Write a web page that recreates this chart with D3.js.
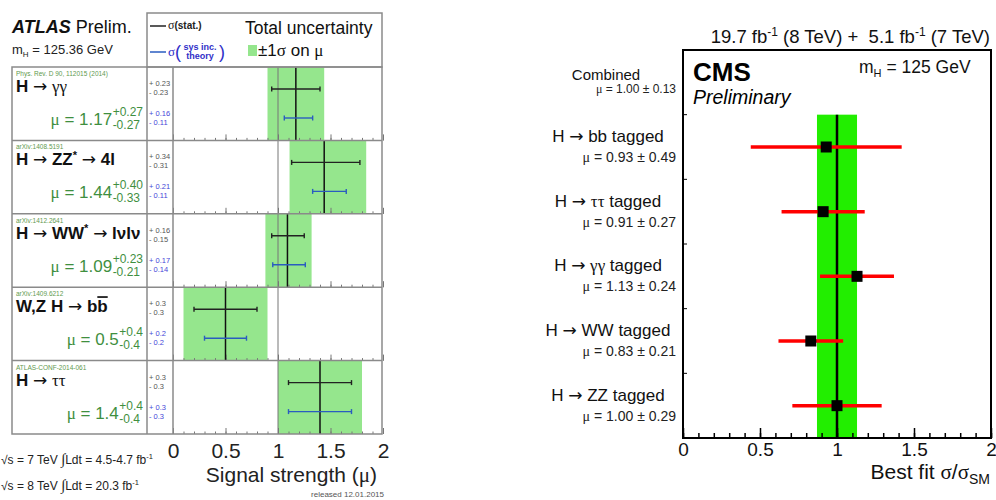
<!DOCTYPE html>
<html><head><meta charset="utf-8">
<script src="https://cdn.jsdelivr.net/npm/d3@7"></script>
<style>
body{margin:0;background:#fff}
svg{display:block;font-family:"Liberation Sans",Arial,Helvetica,sans-serif}
</style>
</head><body>
<svg id="c" width="996" height="500"></svg>
<script>
// ---------------- ATLAS data ----------------
const atlasLabels = ["H → γγ", "H → ZZ^* → 4l", "H → WW^* → lνlν", "W,Z H → b~b", "H → ττ"];
const atlasRefs = ["Phys. Rev. D 90, 112015 (2014)", "arXiv:1408.5191", "arXiv:1412.2641", "arXiv:1409.6212", "ATLAS-CONF-2014-061"];
const atlasMu = [1.17, 1.44, 1.09, 0.5, 1.4];
const atlasPrec = [2, 2, 2, 1, 1];
const atlasTotUp = [0.27, 0.40, 0.23, 0.4, 0.4];
const atlasTotDn = [0.27, 0.33, 0.21, 0.4, 0.4];
const atlasStatUp = [0.23, 0.34, 0.16, 0.3, 0.3];
const atlasStatDn = [0.23, 0.31, 0.15, 0.3, 0.3];
const atlasSysUp = [0.16, 0.21, 0.17, 0.2, 0.3];
const atlasSysDn = [0.11, 0.11, 0.14, 0.2, 0.3];
const atlasTicks = [0, 0.5, 1, 1.5, 2];

// ---------------- CMS data ----------------
const cmsCategories = ["Combined", "H → bb tagged", "H → ττ tagged", "H → γγ tagged", "H → WW tagged", "H → ZZ tagged"];
const cmsMu = [1.00, 0.93, 0.91, 1.13, 0.83, 1.00];
const cmsErr = [0.13, 0.49, 0.27, 0.24, 0.21, 0.29];
const cmsTicks = [0, 0.5, 1, 1.5, 2];

const svg = d3.select("#c");
const SERIF = "Liberation Serif, DejaVu Serif, serif";
const ARROWF = "DejaVu Sans, sans-serif";

// rich text: arrows and greek letters in dedicated fonts
function rich(t, str, opt = {}) {
  let pendingDy = 0;
  const add = () => { const s = t.append("tspan"); if (pendingDy) { s.attr("dy", pendingDy); pendingDy = 0; } return s; };
  str.split(/(→|[γτμ]|\^\*|~b)/).forEach(seg => {
    if (!seg) return;
    if (seg === "→") add().attr("font-family", ARROWF).attr("font-weight", "normal").text("→");
    else if (/[γτμ]/.test(seg)) add().attr("font-family", SERIF).attr("font-weight", opt.greekWeight || null).text(seg);
    else if (seg === "^*") {
      const fs = +t.attr("font-size");
      add().attr("font-size", fs * 0.65).attr("dy", -fs * 0.38).text("*");
      pendingDy = fs * 0.38;
    }
    else if (seg === "~b") add().style("text-decoration", "overline").text("b");
    else add().text(seg);
  });
  return t;
}

// ================= ATLAS panel =================
const A = svg.append("g");
const xa = d3.scaleLinear().domain([0, 2]).range([173, 383]);
const ya = d3.scaleBand().domain(d3.range(atlasMu.length)).range([67, 434]);
const rowH = ya.bandwidth();
const gFrame = "#8a8a8a", aGreen = "#95e68d", aText = "#3f8f3f", aBlue = "#2a5cc0", aBlueTxt = "#4646d8";

atlasMu.forEach((mu, i) => {
  const y0 = ya(i);
  const g = A.append("g");
  g.append("rect").attr("x", xa(mu - atlasTotDn[i])).attr("y", y0)
    .attr("width", xa(mu + atlasTotUp[i]) - xa(mu - atlasTotDn[i])).attr("height", rowH)
    .attr("fill", aGreen);
  const minor = d3.axisBottom(xa).tickValues(d3.range(0, 2.001, 0.1)).tickSize(-2.5).tickFormat("");
  const major = d3.axisBottom(xa).tickValues(atlasTicks).tickSize(-6).tickFormat("");
  [minor, major].forEach(ax => {
    const t = g.append("g").attr("transform", `translate(0,${y0 + rowH})`).call(ax);
    t.select(".domain").remove();
    t.selectAll("text").remove();
    t.selectAll("line").attr("stroke", "#777").attr("stroke-width", 1);
  });
  g.append("line").attr("x1", xa(1)).attr("x2", xa(1)).attr("y1", y0).attr("y2", y0 + rowH)
    .attr("stroke", "#777").attr("stroke-width", 1);
  g.append("line").attr("x1", xa(mu)).attr("x2", xa(mu)).attr("y1", y0).attr("y2", y0 + rowH)
    .attr("stroke", "#111").attr("stroke-width", 1.5);
  const bar = (lo, hi, yy, col) => {
    g.append("line").attr("x1", xa(lo)).attr("x2", xa(hi)).attr("y1", yy).attr("y2", yy)
      .attr("stroke", col).attr("stroke-width", 1.4);
    [lo, hi].forEach(v => g.append("line").attr("x1", xa(v)).attr("x2", xa(v))
      .attr("y1", yy - 2.5).attr("y2", yy + 2.5).attr("stroke", col).attr("stroke-width", 1.4));
  };
  bar(mu - atlasStatDn[i], mu + atlasStatUp[i], y0 + 22, "#222");
  bar(mu - atlasSysDn[i], mu + atlasSysUp[i], y0 + 51, aBlue);

  const p = atlasPrec[i];
  const nf = v => v.toFixed(p === 1 ? 1 : 2);
  g.append("text").attr("x", 149).attr("y", y0 + 19).attr("font-size", 7.5).attr("fill", "#555").text("+ " + nf(atlasStatUp[i]));
  g.append("text").attr("x", 149).attr("y", y0 + 28).attr("font-size", 7.5).attr("fill", "#555").text("- " + nf(atlasStatDn[i]));
  g.append("text").attr("x", 149).attr("y", y0 + 49).attr("font-size", 7.5).attr("fill", aBlueTxt).text("+ " + nf(atlasSysUp[i]));
  g.append("text").attr("x", 149).attr("y", y0 + 58).attr("font-size", 7.5).attr("fill", aBlueTxt).text("- " + nf(atlasSysDn[i]));

  g.append("text").attr("x", 16).attr("y", y0 + 9).attr("font-size", 6.5).attr("fill", "#5f9a4f").text(atlasRefs[i]);

  const lab = g.append("text").attr("x", 16).attr("y", y0 + 25).attr("font-size", 17).attr("font-weight", "bold").attr("fill", "#111");
  rich(lab, atlasLabels[i], { greekWeight: "normal" });

  const xr = 143;
  const sup = g.append("text").attr("y", y0 + 49).attr("font-size", 12).attr("fill", aText).text("+" + atlasTotUp[i].toFixed(p));
  const sub = g.append("text").attr("y", y0 + 62).attr("font-size", 12).attr("fill", aText).text("-" + atlasTotDn[i].toFixed(p));
  const w = Math.max(sup.node().getComputedTextLength(), sub.node().getComputedTextLength());
  sup.attr("x", xr - w); sub.attr("x", xr - w);
  const ml = g.append("text").attr("x", xr - w - 0.5).attr("y", y0 + 58).attr("text-anchor", "end")
    .attr("font-size", 17).attr("fill", aText);
  ml.append("tspan").attr("font-family", SERIF).text("μ");
  ml.append("tspan").text(" = " + mu.toFixed(p));
});

// frames
A.append("rect").attr("x", 12).attr("y", 67).attr("width", 370).attr("height", 367)
  .attr("fill", "none").attr("stroke", gFrame).attr("stroke-width", 1.5);
A.append("rect").attr("x", 147).attr("y", 13).attr("width", 235).attr("height", 54)
  .attr("fill", "none").attr("stroke", gFrame).attr("stroke-width", 1.5);
atlasMu.slice(1).forEach((_, k) => {
  A.append("line").attr("x1", 12).attr("x2", 382).attr("y1", ya(k + 1)).attr("y2", ya(k + 1))
    .attr("stroke", gFrame).attr("stroke-width", 1.5);
});
A.append("line").attr("x1", 147).attr("x2", 147).attr("y1", 67).attr("y2", 434).attr("stroke", gFrame).attr("stroke-width", 1.5);
A.append("line").attr("x1", xa(0)).attr("x2", xa(0)).attr("y1", 67).attr("y2", 434).attr("stroke", gFrame).attr("stroke-width", 1.5);

const axA = A.append("g").attr("transform", "translate(0,434)")
  .call(d3.axisBottom(xa).tickValues(atlasTicks).tickSize(0).tickPadding(9).tickFormat(d3.format("")));
axA.select(".domain").remove();
axA.selectAll("text").attr("font-size", 21).attr("fill", "#222").attr("font-family", "Liberation Sans, Arial, sans-serif");

const sl = A.append("text").attr("x", 377).attr("y", 482).attr("text-anchor", "end").attr("font-size", 21).attr("fill", "#222");
sl.append("tspan").text("Signal strength (");
sl.append("tspan").attr("font-family", SERIF).text("μ");
sl.append("tspan").text(")");
A.append("text").attr("x", 384).attr("y", 497).attr("text-anchor", "end").attr("font-size", 8).attr("fill", "#555").text("released 12.01.2015");
[["7", "4.5-4.7"], ["8", "20.3"]].forEach((d, k) => {
  const t = A.append("text").attr("x", 1).attr("y", 464 + k * 26).attr("font-size", 12).attr("fill", "#222");
  t.append("tspan").text(`√s = ${d[0]} TeV `);
  t.append("tspan").attr("font-family", SERIF).attr("font-size", 15).text("∫");
  t.append("tspan").text(`Ldt = ${d[1]} fb`);
  t.append("tspan").attr("font-size", 7.5).attr("dy", -5).text("-1");
});

// header
const at = A.append("text").attr("x", 12).attr("y", 33).attr("font-size", 18).attr("fill", "#111");
at.append("tspan").attr("font-weight", "bold").attr("font-style", "italic").text("ATLAS");
at.append("tspan").text(" Prelim.");
const mh = A.append("text").attr("x", 12).attr("y", 54).attr("font-size", 13).attr("fill", "#222");
mh.append("tspan").text("m");
mh.append("tspan").attr("font-size", 8).attr("dy", 3).text("H");
mh.append("tspan").attr("dy", -3).text(" = 125.36 GeV");

// legend
A.append("line").attr("x1", 150).attr("x2", 166).attr("y1", 26).attr("y2", 26).attr("stroke", "#222").attr("stroke-width", 1.5);
const ls = A.append("text").attr("x", 168).attr("y", 29).attr("font-size", 12).attr("fill", "#222");
ls.append("tspan").attr("font-family", SERIF).text("σ");
ls.append("tspan").attr("font-weight", "bold").attr("font-size", 10).text("(stat.)");
A.append("line").attr("x1", 150).attr("x2", 166).attr("y1", 52).attr("y2", 52).attr("stroke", aBlue).attr("stroke-width", 1.5);
A.append("text").attr("x", 168).attr("y", 56).attr("font-size", 13).attr("font-family", SERIF).attr("fill", "#3030c8").text("σ");
A.append("text").attr("x", 175).attr("y", 58).attr("font-size", 18).attr("fill", "#3030c8").text("(");
A.append("text").attr("x", 200).attr("y", 50).attr("text-anchor", "middle").attr("font-size", 9).attr("font-weight", "bold").attr("fill", "#3030c8").text("sys inc.");
A.append("text").attr("x", 200).attr("y", 58.5).attr("text-anchor", "middle").attr("font-size", 9).attr("font-weight", "bold").attr("fill", "#3030c8").text("theory");
A.append("text").attr("x", 219).attr("y", 58).attr("font-size", 18).attr("fill", "#3030c8").text(")");
A.append("text").attr("x", 245).attr("y", 34).attr("font-size", 17.5).attr("fill", "#111").text("Total uncertainty");
A.append("rect").attr("x", 248).attr("y", 45).attr("width", 9).attr("height", 11).attr("fill", aGreen);
const pm = A.append("text").attr("x", 258).attr("y", 56).attr("font-size", 17).attr("fill", "#111");
pm.append("tspan").text("±1");
pm.append("tspan").attr("font-family", SERIF).text("σ");
pm.append("tspan").text(" on ");
pm.append("tspan").attr("font-family", SERIF).text("μ");

// ================= CMS panel =================
const C = svg.append("g");
const xc = d3.scaleLinear().domain([0, 2]).range([683, 991]);
const yc = d3.scaleBand().domain(cmsCategories).range([50, 438]);
const yMid = c => yc(c) + yc.bandwidth() / 2;
const bandTop = yc(cmsCategories[1]);

C.append("rect").attr("x", xc(cmsMu[0] - cmsErr[0])).attr("y", bandTop)
  .attr("width", xc(cmsMu[0] + cmsErr[0]) - xc(cmsMu[0] - cmsErr[0])).attr("height", 438 - bandTop)
  .attr("fill", "#22ee00");
C.append("line").attr("x1", xc(cmsMu[0])).attr("x2", xc(cmsMu[0])).attr("y1", bandTop).attr("y2", 438)
  .attr("stroke", "#000").attr("stroke-width", 2.5);

cmsCategories.forEach((c, i) => {
  const ym = yMid(c);
  const muTxt = (t) => { rich(t, `μ = ${cmsMu[i].toFixed(2)} ± ${cmsErr[i].toFixed(2)}`); };
  if (i > 0) {
    C.append("line").attr("x1", xc(cmsMu[i] - cmsErr[i])).attr("x2", xc(cmsMu[i] + cmsErr[i]))
      .attr("y1", ym).attr("y2", ym).attr("stroke", "#ff0000").attr("stroke-width", 3.5);
    C.append("rect").attr("x", xc(cmsMu[i]) - 5.5).attr("y", ym - 5.5).attr("width", 11).attr("height", 11).attr("fill", "#000");
    rich(C.append("text").attr("x", 608).attr("y", ym - 5).attr("text-anchor", "middle").attr("font-size", 17).attr("fill", "#111"), c);
    muTxt(C.append("text").attr("x", 676).attr("y", ym + 15).attr("text-anchor", "end").attr("font-size", 14).attr("fill", "#222"));
    C.append("line").attr("x1", 683).attr("x2", 687).attr("y1", yc(c)).attr("y2", yc(c)).attr("stroke", "#000").attr("stroke-width", 1);
  } else {
    C.append("text").attr("x", 606).attr("y", ym - 2).attr("text-anchor", "middle").attr("font-size", 15).attr("fill", "#111").text(c);
    muTxt(C.append("text").attr("x", 676).attr("y", ym + 11).attr("text-anchor", "end").attr("font-size", 12).attr("fill", "#222"));
  }
});

const minorC = C.append("g").attr("transform", "translate(0,438)")
  .call(d3.axisBottom(xc).tickValues(d3.range(0, 2.001, 0.1)).tickSize(-5).tickFormat(""));
minorC.select(".domain").remove();
minorC.selectAll("text").remove();
minorC.selectAll("line").attr("stroke-width", 1.5);
const majorC = C.append("g").attr("transform", "translate(0,438)")
  .call(d3.axisBottom(xc).tickValues(cmsTicks).tickSize(-10).tickPadding(5).tickFormat(d3.format("")));
majorC.select(".domain").remove();
majorC.selectAll("line").attr("stroke-width", 1.5);
majorC.selectAll("text").attr("font-size", 19).attr("fill", "#111").attr("font-family", "Liberation Sans, Arial, sans-serif");

C.append("rect").attr("x", 683).attr("y", 50).attr("width", 308).attr("height", 388)
  .attr("fill", "none").attr("stroke", "#000").attr("stroke-width", 2);

const xl = C.append("text").attr("x", 990).attr("y", 479).attr("text-anchor", "end").attr("font-size", 21).attr("fill", "#111");
xl.append("tspan").text("Best fit ");
xl.append("tspan").attr("font-family", SERIF).text("σ");
xl.append("tspan").text("/");
xl.append("tspan").attr("font-family", SERIF).text("σ");
xl.append("tspan").attr("font-size", 14).attr("dy", 5).text("SM");

C.append("text").attr("x", 693).attr("y", 81).attr("font-size", 26).attr("font-weight", "bold").attr("fill", "#000").text("CMS");
C.append("text").attr("x", 693).attr("y", 104).attr("font-size", 19.5).attr("font-style", "italic").attr("fill", "#000").text("Preliminary");
const mc = C.append("text").attr("x", 859).attr("y", 73).attr("font-size", 17.5).attr("fill", "#111");
mc.append("tspan").text("m");
mc.append("tspan").attr("font-size", 11).attr("dy", 4).text("H");
mc.append("tspan").attr("dy", -4).text(" = 125 GeV");

const lum = C.append("text").attr("x", 990).attr("y", 43).attr("text-anchor", "end").attr("font-size", 18.5).attr("fill", "#111");
lum.append("tspan").text("19.7 fb");
lum.append("tspan").attr("font-size", 12).attr("dy", -7).text("-1");
lum.append("tspan").attr("dy", 7).text(" (8 TeV) +\u00A0\u00A05.1 fb");
lum.append("tspan").attr("font-size", 12).attr("dy", -7).text("-1");
lum.append("tspan").attr("dy", 7).text(" (7 TeV)");
</script>
</body></html>
